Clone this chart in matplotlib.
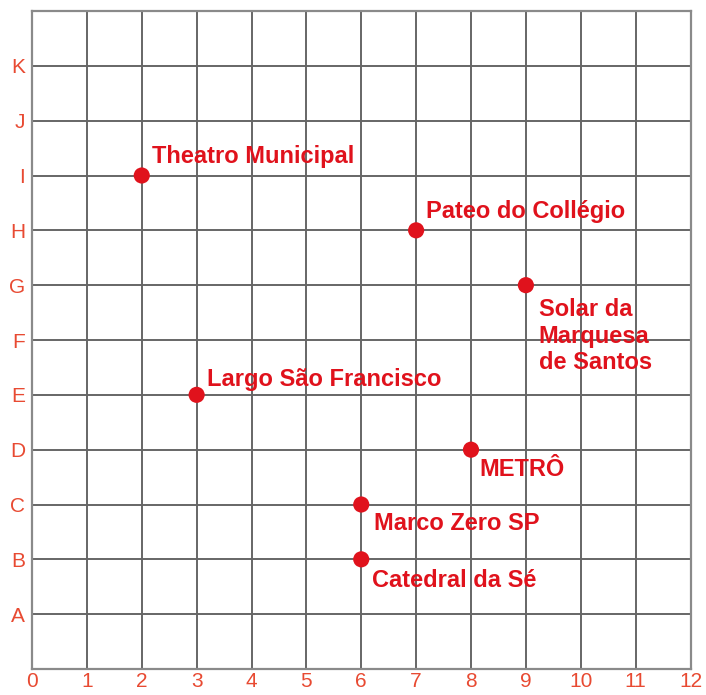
import matplotlib
matplotlib.use("Agg")
import matplotlib.pyplot as plt

# Data
names = ["Theatro Municipal", "Pateo do Collégio", "Solar da\nMarquesa\nde Santos",
         "Largo São Francisco", "METRÔ", "Marco Zero SP", "Catedral da Sé"]
xs = [2, 7, 9, 3, 8, 6, 6]
ys = [9, 8, 7, 5, 4, 3, 2]
# label offsets in pixels (dx, dy) and vertical alignment
offsets = [(10, 12), (10, 12), (13, -13), (10, 9), (8, -26), (13, -26), (11, -28)]
valigns = ["baseline", "baseline", "top", "baseline", "baseline", "baseline", "baseline"]

x_ticks = list(range(0, 13))
y_ticks = list(range(1, 12))
y_labels = ["A", "B", "C", "D", "E", "F", "G", "H", "I", "J", "K"]

red = "#e0121c"
tick_red = "#e84a32"
grid_c = "#666666"

fig = plt.figure(figsize=(7.06, 6.95), dpi=100)
ax = fig.add_axes([32/706, 26/695, 658.5/706, 658/695])
ax.set_xlim(0, 12)
ax.set_ylim(0, 12)

for v in range(0, 13):
    ax.axvline(v, color=grid_c, lw=1.4, zorder=1)
    ax.axhline(v, color=grid_c, lw=1.4, zorder=1)

ax.scatter(xs, ys, s=135, color=red, zorder=3, edgecolors="none")
for n, x, y, (dx, dy), va in zip(names, xs, ys, offsets, valigns):
    ax.annotate(n, (x, y), xytext=(dx, dy), textcoords="offset pixels",
                ha="left", va=va, color=red, fontsize=17, fontweight="bold",
                family="Liberation Sans", linespacing=1.2, zorder=4)

ax.set_xticks(x_ticks)
ax.set_xticklabels([str(v) for v in x_ticks])
ax.set_yticks(y_ticks)
ax.set_yticklabels(y_labels)
ax.tick_params(length=0, colors=tick_red, labelsize=15)
ax.tick_params(axis="x", pad=2.5)
ax.tick_params(axis="y", pad=5)
for lbl in ax.get_xticklabels() + ax.get_yticklabels():
    lbl.set_family("Liberation Sans")
for s in ax.spines.values():
    s.set_color("#8a8a8a")
    s.set_linewidth(1.6)

fig.savefig("out.png", dpi=100)
